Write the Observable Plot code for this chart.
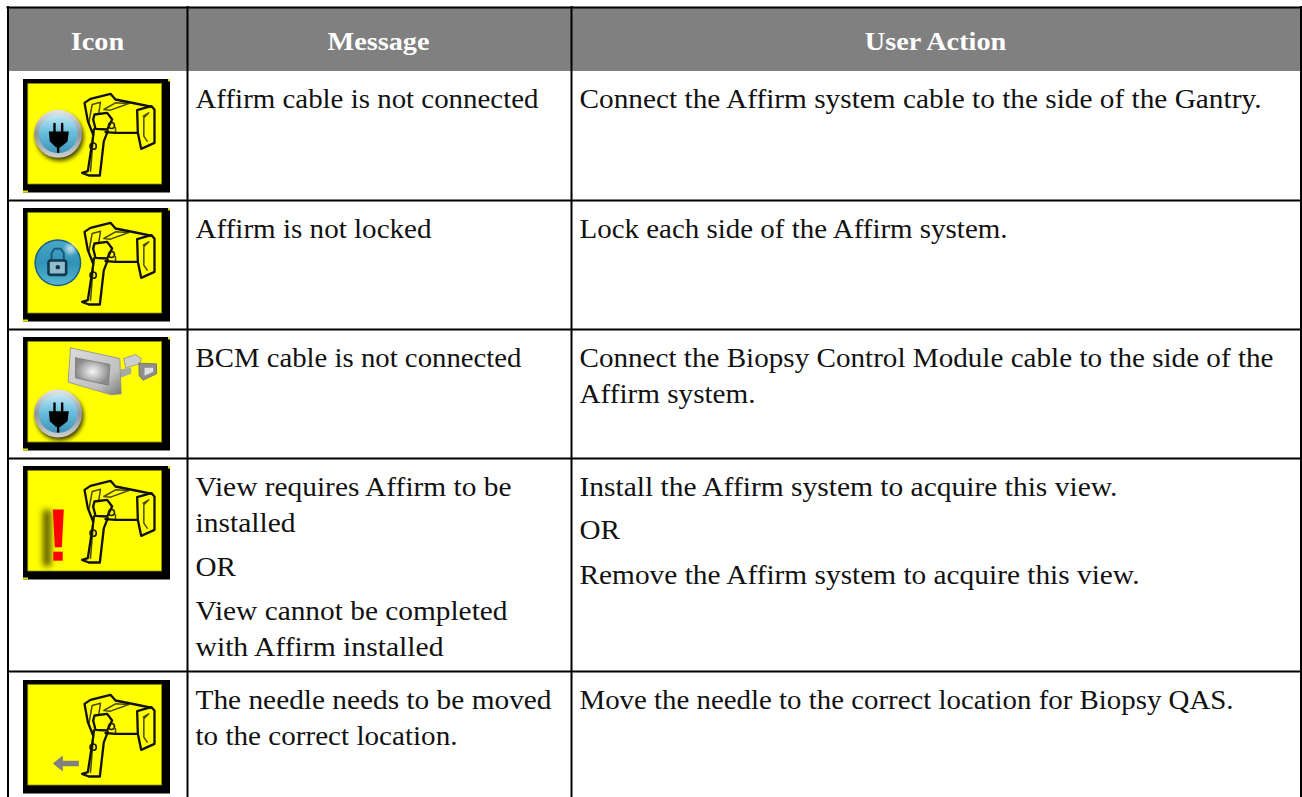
<!DOCTYPE html>
<html>
<head>
<meta charset="utf-8">
<script src="https://cdn.jsdelivr.net/npm/d3@7"></script>
<script src="https://cdn.jsdelivr.net/npm/@observablehq/plot@0.6"></script>
<style>
html,body{margin:0;padding:0;background:#fff;overflow:hidden}
svg{display:block}
.soft{filter:blur(0.6px)}
.soft2{filter:blur(2px)}
.soft3{filter:blur(3px)}
</style>
</head>
<body>
<div id="chart"></div>
<script>
// --- Table content ---
const headers = ["Icon", "Message", "User Action"];
const messages = [
  ["Affirm cable is not connected"],
  ["Affirm is not locked"],
  ["BCM cable is not connected"],
  ["View requires Affirm to be", "installed", "OR", "View cannot be completed", "with Affirm installed"],
  ["The needle needs to be moved", "to the correct location."]
];
const actions = [
  ["Connect the Affirm system cable to the side of the Gantry."],
  ["Lock each side of the Affirm system."],
  ["Connect the Biopsy Control Module cable to the side of the", "Affirm system."],
  ["Install the Affirm system to acquire this view.", "OR", "Remove the Affirm system to acquire this view."],
  ["Move the needle to the correct location for Biopsy QAS."]
];
const iconKinds = ["plug", "lock", "bcm", "warn", "arrow"];

// --- Layout ---
const W = 1302, H = 797;
const colEdges = [7.5, 187, 571, 1300.5];
const headerBand = [8, 71];
const rowLines = [200, 329, 458, 671];
const iconTop = [79, 208, 337, 466, 680];
const iconLeft = 23;
const headerCenters = [97, 378, 935];
const headerBaseline = 49.5;
const msgBaselines = [[107], [237], [366], [495, 531, 575, 619, 655], [708, 744]];
const actBaselines = [[107], [237], [366, 402], [495, 538, 583], [708]];
const textX = [195, 579];
const bodyStretch = 1.08, headStretch = 1.13;
// right-hand ends of the longer lines as set in the reference
const msgEnds = [[538], [431], [521], [511, 295, null, 507, 443], [551, 457]];
const actEnds = [[1261], [1007], [1273, null], [1117, null, 1139], [1233]];

// --- Icon drawing, in icon-local units (3 units = 1 pixel) ---
const gantryHeavy = [
  [[218,174],[202,134],[192,79],[210,67],[270,52],[285,69],[345,81],[395,91]],
  [[350,101],[392,89],[402,99],[402,199],[362,217],[352,169],[350,101]],
  [[255,167],[285,169],[352,169]],
  [[222,114],[260,109],[275,129],[260,159],[225,157],[218,129],[222,114]],
  [[220,159],[218,179],[202,284],[185,289],[205,297],[238,297],[250,194],[262,164]]
];
const gantryLight = [
  [[205,139],[215,84],[240,77],[235,109]],
  [[250,99],[285,79],[325,81],[270,101],[250,99]],
  [[368,119],[385,109],[370,124],[370,179],[380,194]],
  [[218,189],[210,284]],
  [[285,154],[285,169]]
];
const gantryRings = [[273,147,4.3],[218,209,4.7]];
const plugHead = [[85,165],[145,165],[141,195],[120,212],[106,212],[88,195],[85,165]];
const plugProngs = [[[102,142],[102,165]],[[125,142],[125,165]],[[113,210],[113,226]]];
const bcmBody = [[150,40],[298,72],[302,178],[272,181],[143,143],[150,40]];
const bcmScreen = [[165,70],[268,90],[264,152],[165,130],[165,70]];
const bcmArm = [[300,105],[332,98],[332,118],[300,130],[300,105]];
const bcmConnTop = [[310,72],[345,60],[362,72],[358,88],[315,100],[310,72]];
const bcmConnLow = [[355,86],[408,88],[408,118],[368,137],[356,124],[355,86]];
const bcmWindows = [[372,100],[398,100],[398,112],[372,124],[372,100]];
const arrowShape = [[97,258],[127,234],[127,250],[175,250],[175,266],[127,266],[127,282],[97,258]];
const bangTop = [[97,138],[130,138],[124,251],[103,251],[97,138]];
const lockBody = [[88,165],[133,165],[137,169],[137,204],[133,208],[88,208],[84,204],[84,169],[88,165]];
const lockArch = [[93,165],[93,143],[102,130],[121,130],[130,143],[130,165]];

const ux = (ox, v) => ox + v / 3 - 3;
const uy = (oy, v) => oy + v / 3 - 3;
const place = (rows, shape, id, oy) =>
  shape.forEach(([a, b]) => rows.push({id, x: ux(iconLeft, a), y: uy(oy, b)}));

const gantryRows = iconKinds.map((k, i) => k === "bcm" ? -1 : i).filter(i => i >= 0);
const heavy = [], light = [], rings = [];
gantryRows.forEach(r => {
  gantryHeavy.forEach((s, j) => place(heavy, s, `${r}-${j}`, iconTop[r]));
  gantryLight.forEach((s, j) => place(light, s, `${r}-${j}`, iconTop[r]));
  gantryRings.forEach(([a, b, rad]) => rings.push({x: ux(iconLeft, a), y: uy(iconTop[r], b), r: rad}));
});

// plug badge (rows 0 and 2)
const plugCentres = [[0, 113, 172], [2, 113, 237]];
const plugPoly = [], plugLines = [];
const plugDots = plugCentres.map(([r, a, b]) => {
  const dy = b - 172;
  place(plugPoly, plugHead.map(([p, q]) => [p, q + dy]), `h${r}`, iconTop[r]);
  plugProngs.forEach((s, j) => place(plugLines, s.map(([p, q]) => [p, q + dy]), `${r}-${j}`, iconTop[r]));
  return {x: ux(iconLeft, a), y: uy(iconTop[r], b)};
});
const lockCentre = [{x: ux(iconLeft, 112), y: uy(iconTop[1], 172)}];
const lockBodyPts = [], lockArchPts = [];
place(lockBodyPts, lockBody, "b", iconTop[1]);
place(lockArchPts, lockArch, "a", iconTop[1]);
const lockHole = [{x: ux(iconLeft, 112), y: uy(iconTop[1], 185)}];
const lockGlare = [{x: ux(iconLeft, 150), y: uy(iconTop[1], 130)}];

const poly = (shape, r, id) => { const out = []; place(out, shape, id, iconTop[r]); return out; };
const bcmBodyPts = poly(bcmBody, 2, "body");
const bcmScreenPts = poly(bcmScreen, 2, "screen");
const bcmArmPts = poly(bcmArm, 2, "arm");
const bcmTopPts = poly(bcmConnTop, 2, "ct");
const bcmLowPts = poly(bcmConnLow, 2, "cl");
const bcmWinPts = poly(bcmWindows, 2, "cw");
const arrowPts = poly(arrowShape, 4, "arrow");
const bangPts = poly(bangTop, 3, "bang");

// --- Text rows ---
const textRows = [];
const endOf = new Map();
messages.forEach((ls, r) => ls.forEach((t, i) => {
  textRows.push({t, x: textX[0], y: msgBaselines[r][i]});
  if (msgEnds[r][i]) endOf.set(t, msgEnds[r][i] - textX[0]);
}));
actions.forEach((ls, r) => ls.forEach((t, i) => {
  textRows.push({t, x: textX[1], y: actBaselines[r][i]});
  if (actEnds[r][i]) endOf.set(t, actEnds[r][i] - textX[1]);
}));
const headRows = headers.map((t, i) => ({t, x: headerCenters[i], y: headerBaseline}));

const hLines = rowLines.map(y => ({y}));
const vLines = colEdges.map(x => ({x}));
const boxes = iconTop.map(t => ({x1: iconLeft, x2: iconLeft + 147, y1: t, y2: t + 113.5}));
const inner = iconTop.map(t => ({x1: iconLeft + 4.8, x2: iconLeft + 138.6, y1: t + 4.6, y2: t + 105}));
const nicks = iconTop.slice(0, 4).flatMap(t => [
  {x1: iconLeft + 145, x2: iconLeft + 147, y1: t, y2: t + 2.5},
  {x1: iconLeft, x2: iconLeft + 5, y1: t + 111.5, y2: t + 113.5}
]);

const FONT = "'Liberation Serif', serif";

// tags a mark's group so that the page's stylesheet can soften it
const tag = name => (index, scales, values, dims, ctx, next) => {
  const g = next(index, scales, values, dims, ctx);
  if (g) g.classList.add(name);
  return g;
};
const soft = tag("soft");

const defs = () => {
  const d = d3.create("svg:defs");
  const add = (id, stops, opts) => {
    const g = d.append(opts.type).attr("id", id);
    Object.entries(opts.attrs).forEach(([k, v]) => g.attr(k, v));
    stops.forEach(([o, c]) => g.append("stop").attr("offset", o).attr("stop-color", c));
  };
  add("ring", [[0, "#e8e8e8"], [0.5, "#8f9498"], [1, "#d0d0d0"]],
    {type: "linearGradient", attrs: {x1: 0, y1: 0, x2: 0, y2: 1}});
  add("bluePlug", [[0, "#c6e8f2"], [0.45, "#6cc0de"], [1, "#3c93b8"]],
    {type: "linearGradient", attrs: {x1: 0, y1: 0, x2: 0, y2: 1}});
  add("blueLock", [[0, "#4aa6c6"], [0.5, "#2f93b8"], [1, "#56b4d0"]],
    {type: "linearGradient", attrs: {x1: 0, y1: 0, x2: 0, y2: 1}});
  add("screen", [[0, "#f6f6f6"], [1, "#8a8a8a"]], {type: "radialGradient", attrs: {}});
  add("metal", [[0, "#dcdcdc"], [0.7, "#c0c0c0"], [1, "#777"]],
    {type: "linearGradient", attrs: {x1: 0, y1: 0, x2: 1, y2: 1}});
  return d.node();
};

const fillLine = (data, fill, extra = {}) =>
  Plot.line(data, {x: "x", y: "y", z: "id", fill, stroke: "none", render: soft, ...extra});

const chart = Plot.plot({
  width: W, height: H,
  marginTop: 0, marginRight: 0, marginBottom: 0, marginLeft: 0,
  style: {background: "#fff", fontFamily: FONT},
  x: {domain: [0, W], range: [0, W], axis: null},
  y: {domain: [0, H], range: [0, H], axis: null},
  marks: [
    defs,
    Plot.rect([{}], {x1: () => colEdges[0], x2: () => colEdges[3], y1: () => headerBand[0], y2: () => headerBand[1], fill: "#808080"}),
    Plot.rect(boxes, {x1: "x1", x2: "x2", y1: "y1", y2: "y2", fill: "#000"}),
    Plot.rect(inner, {x1: "x1", x2: "x2", y1: "y1", y2: "y2", fill: "#ffff00", stroke: "#8f8f00", strokeWidth: 0.8, render: soft}),
    Plot.rect(nicks, {x1: "x1", x2: "x2", y1: "y1", y2: "y2", fill: "#e6e600"}),
    Plot.line(light, {x: "x", y: "y", z: "id", stroke: "#4a4a08", strokeWidth: 1.5, render: soft, strokeLinejoin: "round"}),
    Plot.line(heavy, {x: "x", y: "y", z: "id", stroke: "#101003", strokeWidth: 2.3, render: soft, strokeLinejoin: "round"}),
    Plot.dot(rings, {x: "x", y: "y", r: "r", stroke: "#1e1e05", strokeWidth: 1.6, fill: "none", render: soft}),
    Plot.dot(plugDots, {x: "x", y: "y", dx: 1.5, dy: 3, r: 24, fill: "#000", fillOpacity: 0.75, render: tag("soft2")}),
    Plot.dot(plugDots, {x: "x", y: "y", r: 24, fill: "url(#ring)", render: soft}),
    Plot.dot(plugDots, {x: "x", y: "y", r: 19.5, fill: "url(#bluePlug)", render: soft}),
    fillLine(plugPoly, "#000"),
    Plot.line(plugLines, {x: "x", y: "y", z: "id", stroke: "#000", strokeWidth: 2.4, render: soft}),
    Plot.dot(lockCentre, {x: "x", y: "y", r: 23.5, fill: "#1c5f80", render: soft}),
    Plot.dot(lockCentre, {x: "x", y: "y", r: 22, fill: "url(#blueLock)", render: soft}),
    Plot.dot(lockGlare, {x: "x", y: "y", r: 5, fill: "#fff", fillOpacity: 0.65, render: tag("soft2")}),
    Plot.line(lockArchPts, {x: "x", y: "y", z: "id", stroke: "#1d5a78", strokeWidth: 2, render: soft}),
    fillLine(lockBodyPts, "#8fbccc", {stroke: "#10384f", strokeWidth: 2.6}),
    Plot.dot(lockHole, {x: "x", y: "y", r: 2.2, fill: "#0f2f44", render: soft}),
    fillLine(bcmArmPts, "#a8a8a8"),
    fillLine(bcmTopPts, "#cfcfcf", {stroke: "#8d8d8d", strokeWidth: 0.8}),
    fillLine(bcmLowPts, "#8f8f8f", {stroke: "#6c6c6c", strokeWidth: 0.8}),
    fillLine(bcmWinPts, "#e0e0e0"),
    fillLine(bcmBodyPts, "url(#metal)", {stroke: "#8a8a8a", strokeWidth: 0.8}),
    fillLine(bcmScreenPts, "url(#screen)", {stroke: "#777", strokeWidth: 0.8}),
    Plot.rect([{}], {
      x1: () => iconLeft + 20, x2: () => iconLeft + 28,
      y1: () => iconTop[3] + 44, y2: () => iconTop[3] + 100,
      fill: "#3a3a00", fillOpacity: 0.85, render: tag("soft3")
    }),
    fillLine(bangPts, "#ff0000"),
    Plot.rect([{}], {
      x1: () => iconLeft + 30.3, x2: () => iconLeft + 39.7,
      y1: () => iconTop[3] + 85.7, y2: () => iconTop[3] + 94.7,
      fill: "#ff0000", render: soft
    }),
    fillLine(arrowPts, "#808080"),
    Plot.ruleY(hLines, {y: "y", x1: colEdges[0], x2: colEdges[3], stroke: "#000", strokeWidth: 2}),
    Plot.ruleX(vLines, {x: "x", y1: 6, y2: H, stroke: "#000", strokeWidth: 2}),
    Plot.ruleY([7], {x1: colEdges[0] - 1, x2: colEdges[3] + 1, stroke: "#000", strokeWidth: 2}),
    Plot.text(headRows, {x: "x", y: "y", text: "t", textAnchor: "middle", lineAnchor: "bottom", fill: "#fff", fontWeight: "bold", fontSize: 25, fontFamily: FONT, render: tag("headText")}),
    Plot.text(textRows, {x: "x", y: "y", text: "t", textAnchor: "start", lineAnchor: "bottom", fill: "#111", fontSize: 27, fontFamily: FONT, render: tag("bodyText")})
  ]
});
document.getElementById("chart").append(chart);

// Book-face proportions: widen the installed serif to the reference's set width
const widen = (sel, k) => chart.querySelectorAll(sel + " text").forEach(t => {
  const target = endOf.get(t.textContent) ?? t.getComputedTextLength() * k;
  t.setAttribute("textLength", target.toFixed(1));
  t.setAttribute("lengthAdjust", "spacingAndGlyphs");
});
widen(".bodyText", bodyStretch);
widen(".headText", headStretch);
</script>
</body>
</html>
